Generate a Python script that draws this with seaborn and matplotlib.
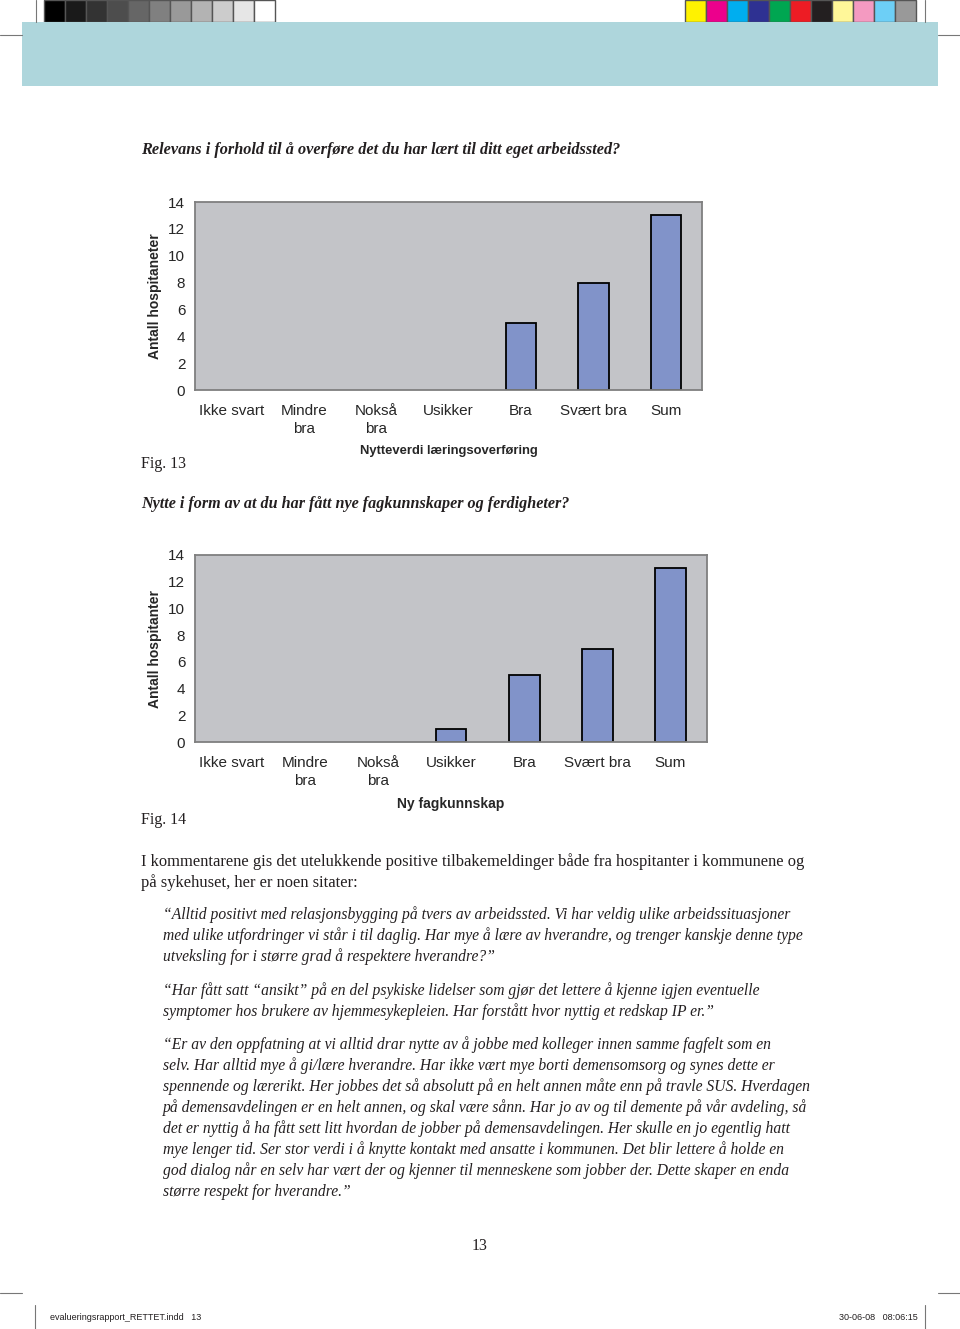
import matplotlib
matplotlib.use("Agg")
import matplotlib.pyplot as plt
from matplotlib.patches import Rectangle
from matplotlib.lines import Line2D
import seaborn as sns
import pandas as pd

# ---------------- data ----------------
categories = ["Ikke svart", "Mindre bra", "Nokså bra", "Usikker", "Bra", "Svært bra", "Sum"]
tick_labels = ["Ikke svart", "Mindre\nbra", "Nokså\nbra", "Usikker", "Bra", "Svært bra", "Sum"]
fig13_values = [0, 0, 0, 0, 5, 8, 13]
fig14_values = [0, 0, 0, 1, 5, 7, 13]
y_ticks = [0, 2, 4, 6, 8, 10, 12, 14]

title13 = "Relevans i forhold til å overføre det du har lært til ditt eget arbeidssted?"
title14 = "Nytte i form av at du har fått nye fagkunnskaper og ferdigheter?"
xlabel13 = "Nytteverdi læringsoverføring"
xlabel14 = "Ny fagkunnskap"
ylabel13 = "Antall hospitaneter"
ylabel14 = "Antall hospitanter"

body_lines = [
    "I kommentarene gis det utelukkende positive tilbakemeldinger både fra hospitanter i kommunene og",
    "på sykehuset, her er noen sitater:",
]
quote_blocks = [
    ["\u201cAlltid positivt med relasjonsbygging på tvers av arbeidssted. Vi har veldig ulike arbeidssituasjoner",
     "med ulike utfordringer vi står i til daglig. Har mye å lære av hverandre, og trenger kanskje denne type",
     "utveksling for i større grad å respektere hverandre?\u201d"],
    ["\u201cHar fått satt \u201cansikt\u201d på en del psykiske lidelser som gjør det lettere å kjenne igjen eventuelle",
     "symptomer hos brukere av hjemmesykepleien. Har forstått hvor nyttig et redskap IP er.\u201d"],
    ["\u201cEr av den oppfatning at vi alltid drar nytte av å jobbe med kolleger innen samme fagfelt som en",
     "selv. Har alltid mye å gi/lære hverandre. Har ikke vært mye borti demensomsorg og synes dette er",
     "spennende og lærerikt. Her jobbes det så absolutt på en helt annen måte enn på travle SUS. Hverdagen",
     "på demensavdelingen er en helt annen, og skal være sånn. Har jo av og til demente på vår avdeling, så",
     "det er nyttig å ha fått sett litt hvordan de jobber på demensavdelingen. Her skulle en jo egentlig hatt",
     "mye lenger tid. Ser stor verdi i å knytte kontakt med ansatte i kommunen. Det blir lettere å holde en",
     "god dialog når en selv har vært der og kjenner til menneskene som jobber der. Dette skaper en enda",
     "større respekt for hverandre.\u201d"],
]
gray_swatches = ["#000000", "#1a1a1a", "#333333", "#4d4d4d", "#666666", "#808080",
                 "#999999", "#b3b3b3", "#cccccc", "#e6e6e6", "#ffffff"]
color_swatches = ["#fff200", "#ec008c", "#00aeef", "#2e3192", "#00a651", "#ed1c24",
                  "#231f20", "#fff799", "#f49ac1", "#6dcff6", "#999999"]

# ---------------- style ----------------
sns.set_style("white")
plt.rcParams["font.family"] = ["Liberation Sans", "DejaVu Sans"]

W, H = 960, 1329
fig = plt.figure(figsize=(W / 100, H / 100), dpi=100)
fig.patch.set_facecolor("white")


def fx(x):
    return x / W


def fy(y):
    return 1 - y / H


def hline(y, x0, x1, color="#777777", lw=0.8):
    fig.add_artist(Line2D([fx(x0), fx(x1)], [fy(y), fy(y)], transform=fig.transFigure,
                          color=color, lw=lw))


def vline(x, y0, y1, color="#777777", lw=0.8):
    fig.add_artist(Line2D([fx(x), fx(x)], [fy(y0), fy(y1)], transform=fig.transFigure,
                          color=color, lw=lw))


# printer marks
hline(35, 0, 22)
hline(35, 938, 960)
vline(36, 0, 22)
vline(925, 0, 22)
hline(1293, 0, 22)
hline(1293, 938, 960)
vline(35, 1305, 1329)
vline(925, 1305, 1329)

sw = 21.0
for i, c in enumerate(gray_swatches):
    fig.add_artist(Rectangle((fx(44 + i * sw), fy(22)), sw / W, 22 / H, transform=fig.transFigure,
                             facecolor=c, edgecolor="#555555", lw=1.0))
for i, c in enumerate(color_swatches):
    fig.add_artist(Rectangle((fx(685 + i * sw), fy(22)), sw / W, 22 / H, transform=fig.transFigure,
                             facecolor=c, edgecolor="#555555", lw=1.0))

# header band
fig.add_artist(Rectangle((fx(22), fy(86)), (938 - 22) / W, (86 - 22) / H, transform=fig.transFigure,
                         facecolor="#aed6dc", edgecolor="none"))

serif = ["Liberation Serif", "DejaVu Serif"]
TXT = "#231f20"
OFF = 1.5

fig.text(fx(141), fy(148 + OFF), title13, family=serif, fontsize=11.7, fontweight="bold", style="italic",
         color=TXT, va="center", ha="left")
fig.text(fx(141), fy(462 + OFF), "Fig. 13", family=serif, fontsize=11.5, color=TXT, va="center")
fig.text(fx(141), fy(503 + OFF), title14, family=serif, fontsize=11.6, fontweight="bold", style="italic",
         color=TXT, va="center", ha="left")
fig.text(fx(141), fy(818 + OFF), "Fig. 14", family=serif, fontsize=11.5, color=TXT, va="center")

for i, line in enumerate(body_lines):
    fig.text(fx(141), fy(860 + OFF + 21 * i), line, family=serif, fontsize=11.85, color=TXT, va="center")

y = 913.5
for block in quote_blocks:
    for line in block:
        fig.text(fx(163), fy(y + OFF), line, family=serif, fontsize=11.25, style="italic", color=TXT,
                 va="center")
        y += 21
    y += 12.5

fig.text(fx(480), fy(1245 + OFF), "13", family=serif, fontsize=11.5, color=TXT, va="center", ha="center")
fig.text(fx(50), fy(1317), "evalueringsrapport_RETTET.indd   13", fontsize=6.5, color=TXT, va="center")
fig.text(fx(918), fy(1317), "30-06-08   08:06:15", fontsize=6.5, color=TXT, va="center", ha="right")

# ---------------- charts ----------------
BAR = "#8193c9"
PLOTBG = "#c3c4c8"
SPINE = "#7f7f7f"


def draw_chart(box, values, xlabel, ylabel, xlab_y, xlab_size):
    left, top, right, bottom = box
    ax = fig.add_axes([fx(left), fy(bottom), (right - left) / W, (bottom - top) / H])
    df = pd.DataFrame({"kategori": categories, "antall": values})
    sns.barplot(data=df, x="kategori", y="antall", order=categories, color=BAR,
                saturation=1, edgecolor="black", linewidth=1.3, width=0.42, ax=ax)
    for p in ax.patches:
        if p.get_height() == 0:
            p.set_linewidth(0)
    ax.set_facecolor(PLOTBG)
    ax.set_xlim(-0.5, len(categories) - 0.5)
    ax.set_ylim(0, 14)
    ax.set_yticks(y_ticks)
    ax.set_yticklabels([str(t) for t in y_ticks], fontsize=11)
    ax.set_xticks(range(len(categories)))
    ax.set_xticklabels(tick_labels, fontsize=11, linespacing=1.35, va="top")
    ax.set_xticks([i - 0.5 for i in range(len(categories) + 1)], minor=True)
    ax.tick_params(axis="x", which="major", length=0, pad=10)
    ax.tick_params(axis="x", which="minor", length=5, color=SPINE, width=1, direction="out")
    ax.tick_params(axis="y", length=5, color=SPINE, width=1, direction="out", pad=2)
    for s in ax.spines.values():
        s.set_visible(True)
        s.set_color(SPINE)
        s.set_linewidth(1.3)
    ax.set_xlabel(xlabel, fontsize=xlab_size, fontweight="bold")
    ax.xaxis.set_label_coords(0.5, xlab_y)
    ax.xaxis.label.set_va("center")
    ax.set_ylabel(ylabel, fontsize=10, fontweight="bold")
    ax.yaxis.set_label_coords((155 - left) / (right - left), 0.5)
    ax.yaxis.label.set_va("center")
    ax.grid(False)
    return ax


draw_chart((195, 202, 702, 390), fig13_values, xlabel13, ylabel13, (390 - 451) / 188, 9.4)
draw_chart((195, 555, 707, 742), fig14_values, xlabel14, ylabel14, (742 - 804) / 187, 10)

fig.savefig("out.png", dpi=100, facecolor="white")
